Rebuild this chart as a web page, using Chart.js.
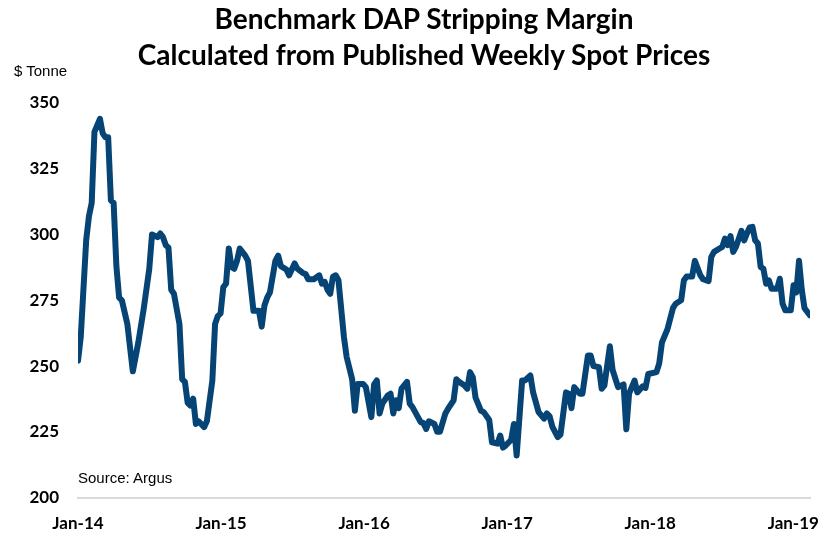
<!DOCTYPE html>
<html>
<head>
<meta charset="utf-8">
<script src="https://cdn.jsdelivr.net/npm/chart.js@4.4.1/dist/chart.umd.min.js"></script>
<style>
  html, body { margin: 0; padding: 0; background: #fff; }
  #wrap { position: relative; width: 821px; height: 537px; }
  #chart { position: absolute; left: 0; top: 0; }
  .title { position: absolute; left: 0; width: 848px; text-align: center;
           font: bold 28px Lato, sans-serif; line-height: 36px; color: #000; white-space: nowrap; }
  .note { position: absolute; font: 15px "Liberation Sans", Arial, sans-serif; line-height: 17px; color: #000; }
</style>
</head>
<body>
<div id="wrap">
  <canvas id="chart" width="821" height="537"></canvas>
  <div class="title" style="top:0px">Benchmark DAP Stripping Margin<br>Calculated from Published Weekly Spot Prices</div>
  <div class="note" style="left:14px; top:62px">$ Tonne</div>
  <div class="note" style="left:78px; top:469px">Source: Argus</div>
</div>
<script>
// semaines depuis le début de janvier 2014, marge en $/t
const weeks = [
  0, 1, 3, 4, 5, 6, 8, 9, 10, 11, 12, 13, 14, 15, 16, 18, 20, 22, 24, 26,
  27, 29, 30, 31, 32, 33, 34, 35, 37, 38, 39, 40, 41, 42, 43, 44, 46, 47, 49, 50,
  51, 52, 53, 54, 55, 56, 57, 58, 59, 61, 62, 64, 66, 67, 68, 69, 70, 72, 73, 74,
  76, 77, 79, 80, 82, 83, 84, 86, 88, 89, 90, 91, 92, 93, 94, 95, 97, 98, 100, 101,
  102, 104, 105, 107, 108, 109, 110, 111, 113, 114, 115, 116, 117, 118, 120, 121, 122, 124, 125, 126,
  127, 128, 130, 131, 132, 134, 135, 137, 138, 139, 141, 142, 143, 144, 145, 147, 148, 150, 151, 153,
  154, 155, 156, 158, 159, 160, 162, 163, 165, 166, 168, 170, 171, 172, 173, 175, 176, 178, 179, 180,
  181, 183, 184, 186, 187, 188, 190, 191, 192, 194, 195, 197, 199, 200, 201, 203, 204, 206, 207, 208,
  211, 212, 213, 215, 217, 218, 220, 221, 222, 224, 225, 227, 228, 230, 231, 232, 234, 235, 236, 237,
  238, 239, 240, 242, 243, 244, 245, 246, 247, 248, 249, 250, 251, 252, 253, 255, 256, 257, 258, 260,
  261, 262, 263, 264, 265, 267
];
const margin = [
  252, 261, 298, 307, 312, 339, 344, 338.5, 337, 337, 313, 312, 288, 276, 275, 266, 248, 259, 272, 287,
  300, 299, 300.4, 299, 296, 295, 279, 277.5, 266, 245, 244, 236, 235, 237.6, 228, 229, 226.8, 229, 244.5, 266,
  269, 270, 280, 281.3, 294.7, 287.7, 287, 290, 294.7, 292, 290, 271, 271, 265, 273, 276, 278, 290, 292, 288,
  286.7, 284.5, 289, 287, 285.4, 285, 283, 283, 284.5, 281.3, 282, 279, 277.5, 284, 284.5, 282.6, 261, 253.4, 245, 233,
  243.2, 243.2, 242, 230.6, 243, 244.5, 232, 235.7, 238.8, 239.5, 232, 237, 234, 241.4, 244, 235.7, 234.4, 230.6, 228.7, 228.3,
  226.1, 229, 228, 225, 225, 232, 233.8, 237, 245, 244, 242.6, 241.4, 247.7, 245.8, 238, 233, 232.5, 229.5, 221, 220.5,
  223.6, 219, 219.8, 222, 228, 216, 244.5, 244.5, 246.4, 240, 232.5, 230, 232, 231, 227, 223, 224, 240, 239.5, 234,
  242, 239.5, 239.5, 254, 254, 250, 249.6, 241.4, 242.6, 257.5, 248.5, 242, 243, 226, 239.5, 244.5, 240, 242.3, 241.7, 247,
  247.7, 251, 259, 264, 272, 273.7, 275, 282.6, 284, 284, 290, 284.5, 283, 282.3, 291.5, 293.4, 294.7, 295.3, 298.5, 296,
  299.4, 293.4, 295.3, 301.4, 297.8, 300.4, 302.7, 302.9, 297.8, 296.6, 287.7, 287, 281.3, 282.6, 279.4, 279.4, 283.2, 273.7, 271.2, 271.2,
  280.7, 278, 290, 279, 272, 269.3
];
const yearLabels = ['Jan-14', 'Jan-15', 'Jan-16', 'Jan-17', 'Jan-18', 'Jan-19'];
const weeksPerYear = 52.18;

const tickFont = { family: 'Lato, sans-serif', size: 17, weight: 'bold' };

new Chart(document.getElementById('chart'), {
  type: 'line',
  data: {
    datasets: [{
      data: weeks.map((w, i) => ({ x: w, y: margin[i] })),
      borderColor: '#064476',
      borderWidth: 6,
      borderJoinStyle: 'round',
      borderCapStyle: 'round',
      pointRadius: 0,
      tension: 0,
      fill: false
    }]
  },
  options: {
    responsive: false,
    animation: false,
    layout: { padding: { top: 103, right: 11, bottom: -13, left: 0 } },
    plugins: { legend: { display: false }, tooltip: { enabled: false }, title: { display: false } },
    scales: {
      x: {
        type: 'linear',
        min: 0,
        max: 267,
        grid: { display: false, drawTicks: false },
        border: { display: true, color: '#d9d9d9', width: 2 },
        afterBuildTicks: axis => { axis.ticks = yearLabels.map((_, i) => ({ value: i * weeksPerYear })); },
        afterFit: s => { s.paddingLeft = 0; s.paddingRight = 0; },
        ticks: {
          autoSkip: false,
          maxRotation: 0,
          padding: 16,
          color: '#000',
          font: tickFont,
          callback: (v, i) => yearLabels[i]
        }
      },
      y: {
        min: 200,
        max: 350,
        grid: { display: false, drawTicks: false },
        border: { display: false },
        afterFit: s => { s.width = 78; },
        ticks: { stepSize: 25, padding: 19, color: '#000', font: tickFont }
      }
    }
  }
});
</script>
</body>
</html>
